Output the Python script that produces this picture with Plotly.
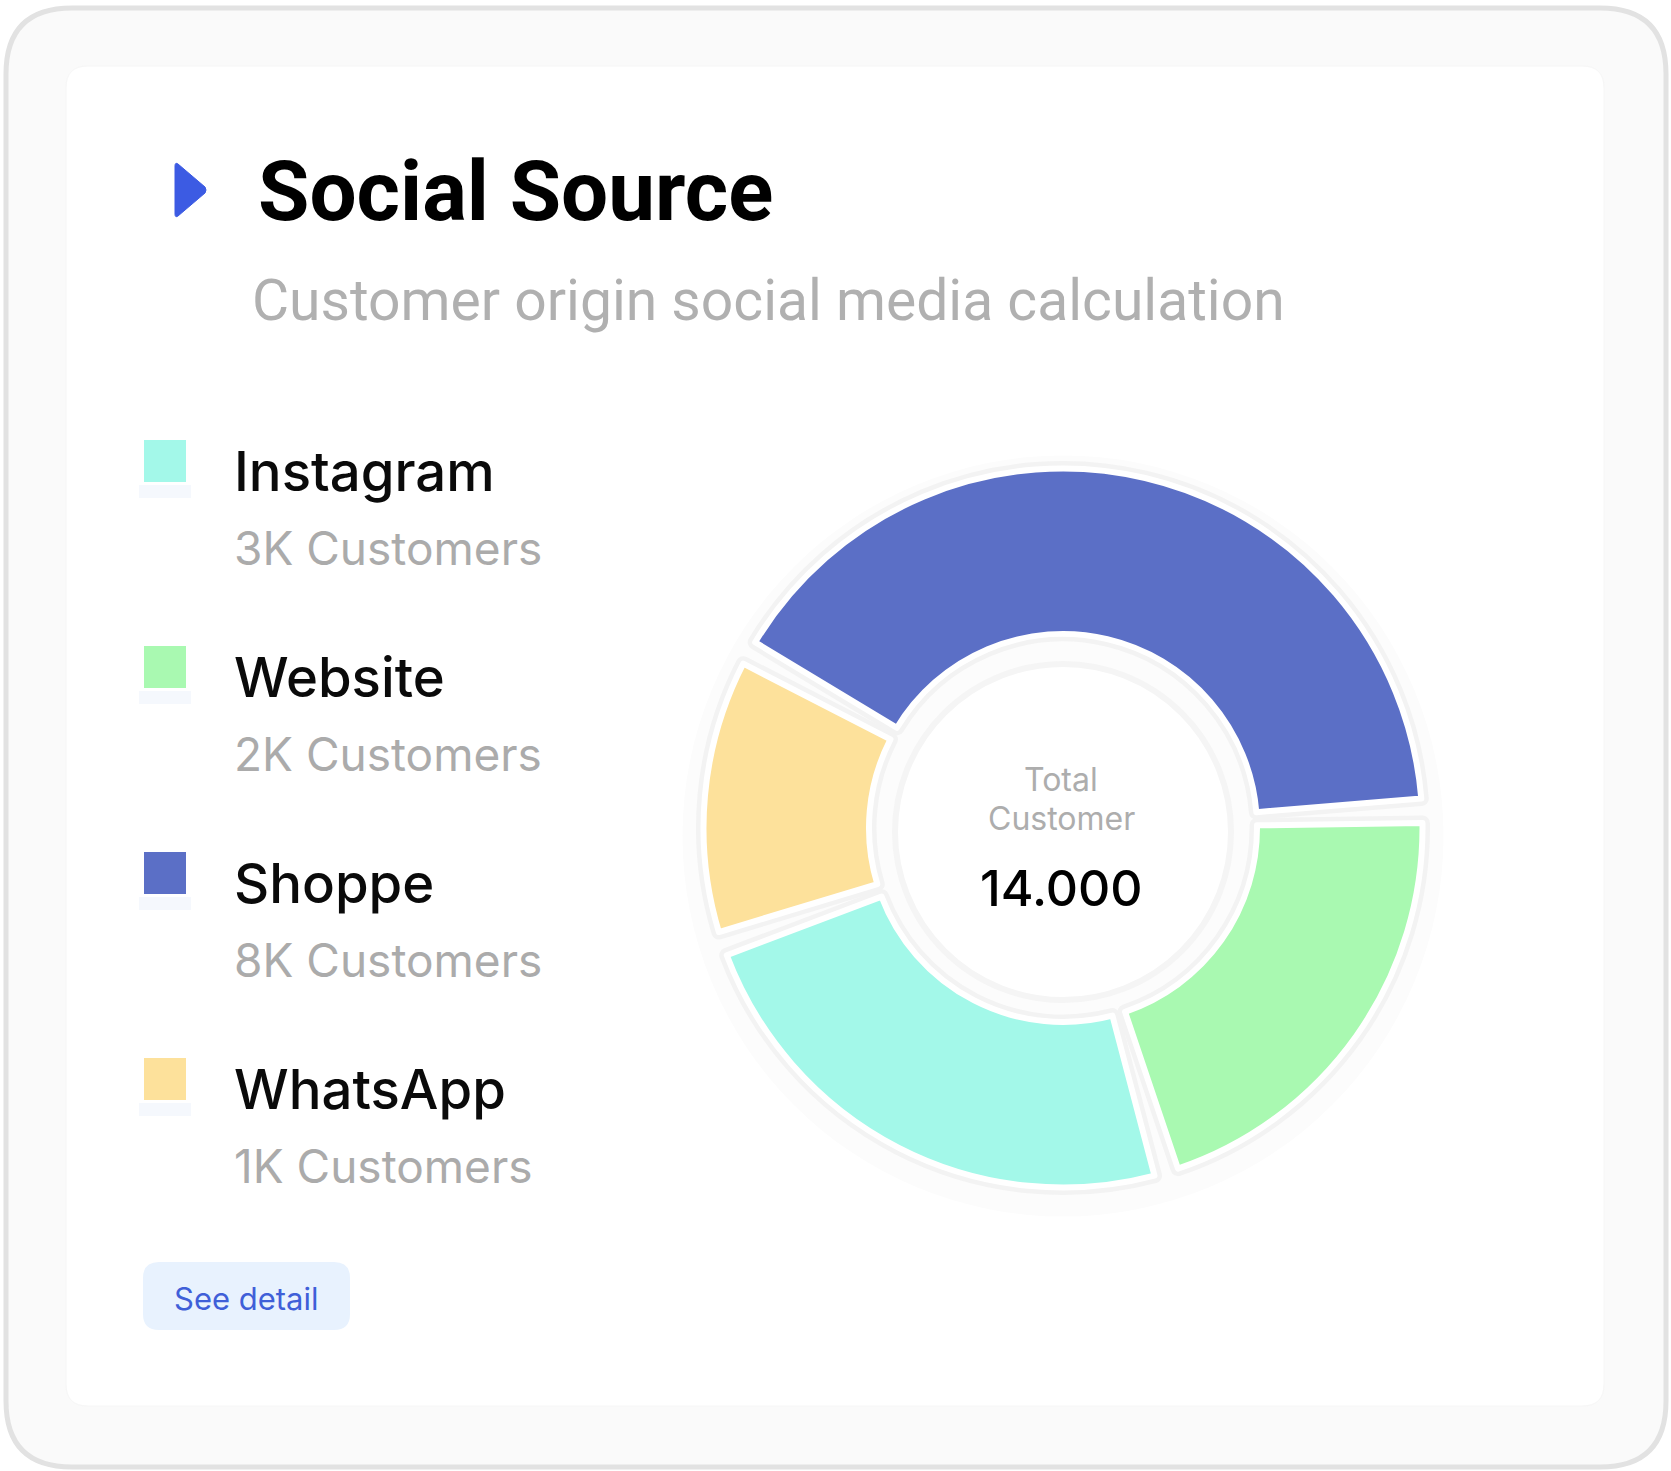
import plotly.graph_objects as go

W, H = 1671, 1471

# ---------------- data ----------------
categories = ["Instagram", "Website", "Shoppe", "WhatsApp"]
customer_labels = ["3K Customers", "2K Customers", "8K Customers", "1K Customers"]
slice_share = [24.4, 21.1, 41.1, 13.3]          # angular share of each slice as drawn (%)
colors = ["#A3F8E9", "#A9F9B1", "#5B6FC6", "#FDE19B"]
total_label = "14.000"
title_text = "Social Source"
subtitle_text = "Customer origin social media calculation"

GAP_DEG = 3.9  # visual spacing between slices (style)


def X(px):
    return px / W


def Y(py):
    return 1 - py / H


def rounded_rect(x0, y0, x1, y1, r):
    rx, ry = r / W, r / H
    a, b, c, d = X(x0), Y(y0), X(x1), Y(y1)
    return (f"M {a+rx},{b} L {c-rx},{b} Q {c},{b} {c},{b-ry} "
            f"L {c},{d+ry} Q {c},{d} {c-rx},{d} "
            f"L {a+rx},{d} Q {a},{d} {a},{d+ry} "
            f"L {a},{b-ry} Q {a},{b} {a+rx},{b} Z")


def circle(cx, cy, r, fill, line_color=None, line_width=0, layer="below"):
    return dict(type="circle", xref="paper", yref="paper",
                x0=X(cx - r), x1=X(cx + r), y0=Y(cy + r), y1=Y(cy - r),
                fillcolor=fill, line=dict(color=line_color or fill, width=line_width),
                layer=layer)


shapes = []
# outer card
shapes.append(dict(type="path", xref="paper", yref="paper",
                   path=rounded_rect(6, 8, 1666, 1467, 66),
                   fillcolor="#FAFAFA", line=dict(color="#E2E2E2", width=5), layer="below"))
# inner white card
shapes.append(dict(type="path", xref="paper", yref="paper",
                   path=rounded_rect(66, 66, 1604, 1406, 22),
                   fillcolor="#FFFFFF", line=dict(color="#F6F6F6", width=1), layer="below"))

# title marker (rounded triangle)
tx0, ty0, tx1, ty1 = 175, 162, 206, 218
tm = (ty0 + ty1) / 2
shapes.append(dict(type="path", xref="paper", yref="paper",
                   path=(f"M {X(tx0)},{Y(ty0+4)} Q {X(tx0)},{Y(ty0)} {X(tx0+3)},{Y(ty0+2)} "
                         f"L {X(tx1-1)},{Y(tm-3)} Q {X(tx1+1)},{Y(tm)} {X(tx1-1)},{Y(tm+3)} "
                         f"L {X(tx0+3)},{Y(ty1-2)} Q {X(tx0)},{Y(ty1)} {X(tx0)},{Y(ty1-4)} Z"),
                   fillcolor="#3C5BE3", line=dict(color="#3C5BE3", width=1), layer="above"))

# legend squares with soft shadow
sq_x0, sq_size = 144, 42
sq_top0, sq_step = 440, 206
for i, c in enumerate(colors):
    t = sq_top0 + i * sq_step
    shapes.append(dict(type="rect", xref="paper", yref="paper",
                       x0=X(sq_x0 - 5), x1=X(sq_x0 + sq_size + 5),
                       y0=Y(t + sq_size + 16), y1=Y(t + sq_size + 3),
                       fillcolor="#F5F8FD", line=dict(width=0), layer="below"))
    shapes.append(dict(type="rect", xref="paper", yref="paper",
                       x0=X(sq_x0), x1=X(sq_x0 + sq_size), y0=Y(t + sq_size), y1=Y(t),
                       fillcolor=c, line=dict(width=0), layer="above"))

# button
shapes.append(dict(type="path", xref="paper", yref="paper",
                   path=rounded_rect(143, 1262, 350, 1330, 16),
                   fillcolor="#E8F2FE", line=dict(width=0), layer="below"))

# donut geometry
CX, CY = 1063, 828
R_OUT, R_IN = 356.5, 197      # visible coloured radii
WHITE = 6                     # white border stroke
SHADOW = 15                   # soft grey outline stroke (underlay)
shapes.append(circle(CX, CY + 8, R_OUT + 24, "#FCFCFC"))
shapes.append(circle(CX, CY + 4, 168, "#FFFFFF", "#F5F5F5", 6))

Rp = R_OUT + WHITE / 2
hole = (R_IN - WHITE / 2) / Rp

# slices interleaved with thin transparent spacers
values, fill_top, fill_under, line_top, line_under, labels = [], [], [], [], [], []
for cat, share, col in zip(categories, slice_share, colors):
    values += [share * 3.6 - GAP_DEG, GAP_DEG]
    labels += [cat, cat + " gap"]
    fill_top += [col, "rgba(0,0,0,0)"]
    fill_under += ["#F1F1F1", "rgba(0,0,0,0)"]
    line_top += ["#FFFFFF", "rgba(0,0,0,0)"]
    line_under += ["#F3F3F3", "rgba(0,0,0,0)"]

# first slice (Instagram) ends on the Instagram/Website boundary
rotation = 163.3 + GAP_DEG / 2
domain = dict(x=[X(CX - Rp), X(CX + Rp)], y=[Y(CY + Rp), Y(CY - Rp)])

fig = go.Figure()
fig.add_trace(go.Pie(
    labels=labels, values=values, sort=False,
    direction="counterclockwise", rotation=rotation, hole=hole,
    marker=dict(colors=fill_under, line=dict(color=line_under, width=SHADOW)),
    textinfo="none", hoverinfo="skip", showlegend=False, domain=domain,
))
fig.add_trace(go.Pie(
    labels=labels, values=values, sort=False,
    direction="counterclockwise", rotation=rotation, hole=hole,
    marker=dict(colors=fill_top, line=dict(color=line_top, width=WHITE)),
    textinfo="none", hoverinfo="label", showlegend=False, domain=domain,
))

ann = []


def text(x, y, s, size, color, family, weight="normal", xanchor="left"):
    ann.append(dict(x=X(x), y=Y(y), xref="paper", yref="paper", text=s, showarrow=False,
                    xanchor=xanchor, yanchor="middle",
                    font=dict(size=size, color=color, family=family, weight=weight)))


text(256, 192, title_text, 83.5, "#000000", "Roboto", "bold")
text(250, 300, subtitle_text, 57, "#B0B0B0", "Roboto")

lab_y0 = 471
for i, (cat, cl) in enumerate(zip(categories, customer_labels)):
    y = lab_y0 + i * sq_step
    text(232, y, cat, 54.5, "#0A0A0A", "Inter", 500)
    text(232, y + 77, cl, 46, "#ABABAB", "Inter")

text(246, 1298, "See detail", 31, "#3F5FD8", "Inter", xanchor="center")
text(CX - 2, 779, "Total", 32, "#ADADAD", "Inter", xanchor="center")
text(CX - 2, 818, "Customer", 32, "#ADADAD", "Inter", xanchor="center")
text(CX - 2, 888, total_label, 50, "#000000", "Inter", 500, xanchor="center")

fig.update_layout(
    width=W, height=H, margin=dict(l=0, r=0, t=0, b=0),
    paper_bgcolor="#FFFFFF", plot_bgcolor="#FFFFFF",
    shapes=shapes, annotations=ann,
)
fig.write_html("out.html", config={"displayModeBar": False},
               post_script="document.body.style.margin='0';")
